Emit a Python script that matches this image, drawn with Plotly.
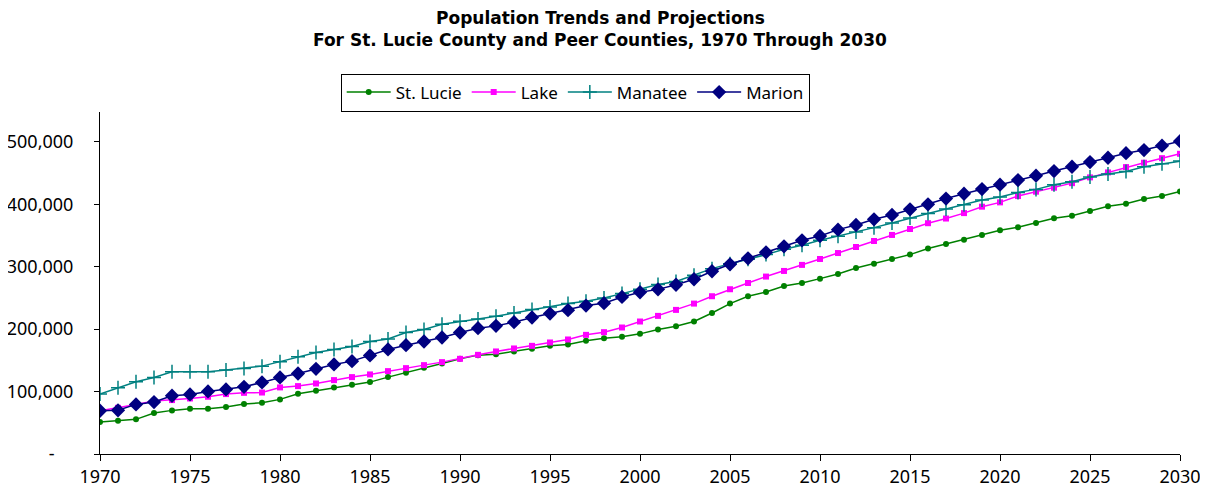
import plotly.graph_objects as go

##################################
# DATA
##################################

years = list(range(1970, 2031))

st_lucie = [51200, 53300, 55500, 65600, 69900, 72500, 72500, 75200, 80000, 82100,
            87500, 96500, 101300, 106700, 110900, 115200, 123200, 130100, 138100, 145100,
            152500, 158400, 160000, 164300, 168500, 173300, 175500, 181300, 185600, 187700,
            192500, 199500, 204800, 212300, 226000, 241000, 252800, 259700, 269300, 274000,
            281000, 288500, 298000, 305000, 312500, 319500, 329300, 336500, 343500, 351000,
            358400, 363200, 370000, 377600, 381900, 389300, 396800, 401000, 408500, 413300,
            420800]

lake = [69300, 74000, 79500, 84800, 86400, 89000, 91700, 96000, 98000, 98500,
        106700, 108800, 113000, 118400, 123200, 127500, 132800, 137600, 142400, 147200,
        152500, 158900, 164300, 169100, 173300, 178700, 183500, 190900, 195200, 202700,
        212300, 221300, 230900, 241000, 252800, 264000, 274000, 284300, 293300, 303000,
        312500, 322000, 331700, 341300, 351000, 360500, 369800, 377300, 386000, 396300,
        403200, 413300, 420300, 426700, 434000, 443200, 451200, 459700, 466700, 474000,
        481000]

manatee = [96000, 106000, 115700, 122700, 131700, 131700, 131700, 134400, 137000, 140800,
           148000, 155700, 162700, 167500, 172300, 180300, 184400, 194700, 199500, 208000,
           212800, 216500, 220800, 226000, 231500, 235700, 241000, 244800, 250000, 257000,
           264000, 271500, 276500, 286400, 297000, 305000, 312000, 319500, 328000, 334400,
           342400, 348800, 355700, 362700, 370000, 378000, 385500, 392500, 399500, 407000,
           411700, 419200, 424000, 431500, 436300, 443700, 448500, 452800, 460300, 465000,
           469300]

marion = [69300, 70000, 79500, 83200, 93300, 95500, 100300, 103500, 107700, 114700,
          122700, 129000, 136500, 143500, 148800, 157900, 167500, 174400, 180300, 186700,
          194700, 201600, 205300, 211200, 218700, 225000, 230400, 237900, 241600, 251700,
          259200, 263800, 271200, 280000, 292800, 304000, 313600, 323200, 332800, 342400,
          349300, 359500, 366900, 376000, 383000, 392000, 400000, 409300, 417000, 424500,
          431500, 439000, 446000, 453300, 460300, 467700, 474700, 482000, 487000, 494000,
          501300]

y_ticks = [0, 100000, 200000, 300000, 400000, 500000]
y_tick_labels = ["-\u00a0\u00a0\u00a0\u00a0", "100,000", "200,000", "300,000", "400,000", "500,000"]
x_ticks = list(range(1970, 2031, 5))

title_1 = "Population Trends and Projections"
title_2 = "For St. Lucie County and Peer Counties, 1970 Through 2030"

##########
# PLOTTING
##########

font_name = "Noto Sans"
title_font = "DejaVu Sans"

fig = go.Figure()

fig.add_trace(go.Scatter(x=years, y=st_lucie, name="St. Lucie", mode="lines+markers",
                         line=dict(color="#008000", width=1.5),
                         marker=dict(symbol="circle", size=6, color="#008000")))
fig.add_trace(go.Scatter(x=years, y=lake, name="Lake", mode="lines+markers",
                         line=dict(color="#FF00FF", width=1.5),
                         marker=dict(symbol="square", size=6, color="#FF00FF")))
fig.add_trace(go.Scatter(x=years, y=manatee, name="Manatee", mode="lines+markers",
                         line=dict(color="#008080", width=1.5),
                         marker=dict(symbol="cross-thin", size=10,
                                     line=dict(color="#008080", width=1.5))))
fig.add_trace(go.Scatter(x=years, y=marion, name="Marion", mode="lines+markers",
                         line=dict(color="#000080", width=1.5),
                         marker=dict(symbol="diamond", size=11, color="#000080")))

# title as two annotations (page body adds an 8px offset)
fig.add_annotation(text="<b>" + title_1 + "</b>", xref="paper", yref="paper",
                   x=0.463, y=1.2749, xanchor="center", yanchor="middle", showarrow=False,
                   font=dict(family=title_font, size=17, color="black"))
fig.add_annotation(text="<b>" + title_2 + "</b>", xref="paper", yref="paper",
                   x=0.463, y=1.2105, xanchor="center", yanchor="middle", showarrow=False,
                   font=dict(family=title_font, size=17, color="black"))

fig.update_layout(
    width=1200, height=489,
    paper_bgcolor="white", plot_bgcolor="white",
    margin=dict(l=92, r=28, t=104, b=43),
    font=dict(family=font_name, size=18, color="black"),
    legend=dict(orientation="h", x=0.440, xanchor="center", y=1.057, yanchor="middle",
                bordercolor="black", borderwidth=1, bgcolor="white",
                font=dict(family=font_name, size=17), itemwidth=44),
    showlegend=True,
)

fig.update_xaxes(range=[1970, 2030], tickvals=x_ticks, showgrid=False, zeroline=False,
                 showline=True, linecolor="black", linewidth=1, automargin=False,
                 ticks="outside", ticklen=6, tickcolor="black")
fig.update_yaxes(range=[0, 548000], tickvals=y_ticks, ticktext=y_tick_labels,
                 showgrid=False, zeroline=False, automargin=False,
                 showline=True, linecolor="black", linewidth=1,
                 ticks="outside", ticklen=5, tickcolor="black", ticklabelstandoff=17)

fig.write_html("out.html")
